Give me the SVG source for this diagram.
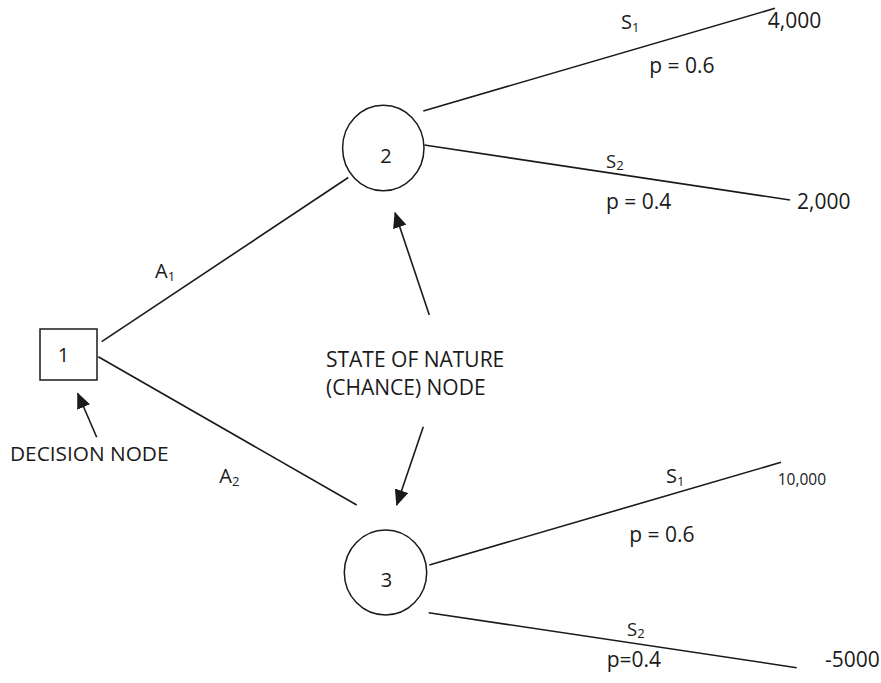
<svg xmlns="http://www.w3.org/2000/svg" width="881" height="683" viewBox="0 0 881 683">
<style>
text{font-family:"Open Sans","Noto Sans","Liberation Sans",sans-serif;fill:#1a1a1a}
.n{stroke:#1a1a1a;stroke-width:1.5;fill:#fff}
.e{stroke:#1a1a1a;stroke-width:1.6;fill:none}
.l{font-size:21px}
.s{font-size:20px}
.s2{font-size:18.5px}
.sub{font-size:13px}
</style>
<defs>
<marker id="ah" markerUnits="userSpaceOnUse" markerWidth="16" markerHeight="14" refX="15" refY="7" orient="auto">
<path d="M0,0 L16,7 L0,14 z" fill="#1a1a1a"/>
</marker>
</defs>
<g id="connectors">
<line class="e" x1="101.7" y1="341.7" x2="348.3" y2="177.5"/>
<line class="e" x1="98.3" y1="356.7" x2="356.7" y2="505"/>
<line class="e" x1="423.3" y1="111" x2="775" y2="8.3"/>
<line class="e" x1="424.3" y1="145" x2="790" y2="200"/>
<line class="e" x1="429.3" y1="565" x2="781" y2="462.3"/>
<line class="e" x1="428.7" y1="612.7" x2="796.7" y2="667.7"/>
<line class="e" x1="429.3" y1="315" x2="395" y2="212.7" marker-end="url(#ah)"/>
<line class="e" x1="423.3" y1="426.7" x2="396.7" y2="505" marker-end="url(#ah)"/>
<line class="e" x1="96.7" y1="437.3" x2="77.7" y2="393.3" marker-end="url(#ah)"/>
</g>
<g id="node1">
<rect class="n" x="40" y="329" width="57" height="51"/>
<text class="s" x="63.5" y="361.7" text-anchor="middle">1</text>
</g>
<g id="node2">
<ellipse class="n" cx="383.3" cy="148" rx="40.7" ry="42.8"/>
<text class="s" x="386" y="163" text-anchor="middle">2</text>
</g>
<g id="node3">
<ellipse class="n" cx="385.5" cy="572.5" rx="41.2" ry="42.5"/>
<text class="s" x="386.5" y="587" text-anchor="middle">3</text>
</g>
<g id="labels">
<text class="s" x="155" y="278.3">A<tspan class="sub" dy="3">1</tspan></text>
<text class="s" x="219.3" y="482.5">A<tspan class="sub" dy="3">2</tspan></text>
<text class="s" x="621" y="29">S<tspan class="sub" dy="3">1</tspan></text>
<text class="l" x="649.3" y="73.3">p = 0.6</text>
<text class="l" x="767.7" y="28.3">4,000</text>
<text class="s2" x="606" y="168.3">S<tspan class="sub" dy="2">2</tspan></text>
<text class="l" x="606" y="209.3">p = 0.4</text>
<text class="l" x="797" y="209.3">2,000</text>
<text class="s" x="666" y="482.7">S<tspan class="sub" dy="3">1</tspan></text>
<text class="l" x="629.3" y="541.7">p = 0.6</text>
<text style="font-size:15.5px" x="777.7" y="485">10,000</text>
<text class="s2" x="627" y="636">S<tspan class="sub" dy="2">2</tspan></text>
<text class="l" x="606.7" y="667.3">p=0.4</text>
<text class="l" x="825" y="667">-5000</text>
<text style="font-size:20.8px" x="10" y="460.7">DECISION NODE</text>
<text class="l" x="326" y="366.7">STATE OF NATURE</text>
<text class="l" x="326" y="394.5">(CHANCE) NODE</text>
</g>
</svg>
